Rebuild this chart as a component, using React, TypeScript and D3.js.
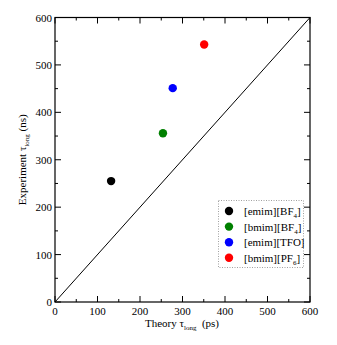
import React, { useEffect, useRef } from 'react';
import * as d3 from 'd3';

// ionic liquids: theory vs experiment long relaxation time
const liquids = ['emim|BF|4', 'bmim|BF|4', 'emim|TFO|', 'bmim|PF|6'];
const theory = [132, 254, 277, 351];
const experiment = [255, 356, 451, 543];
const colors = ['#000000', '#008000', '#0000ff', '#ff0000'];
const majorTicks = [0, 100, 200, 300, 400, 500, 600];
const minorTicks = [50, 150, 250, 350, 450, 550];

export default function App() {
  const svgRef = useRef<SVGSVGElement>(null);

  useEffect(() => {
    const svg = d3.select(svgRef.current);
    svg.selectAll('*').remove();

    const left = 55, right = 310, top = 17.5, bottom = 302;
    const x = d3.scaleLinear().domain([0, 600]).range([left, right]);
    const y = d3.scaleLinear().domain([0, 600]).range([bottom, top]);
    const font = "'Liberation Serif', 'DejaVu Serif', serif";

    // diagonal y = x
    svg.append('line')
      .attr('x1', x(0)).attr('y1', y(0))
      .attr('x2', x(600)).attr('y2', y(600))
      .attr('stroke', '#000').attr('stroke-width', 1);

    // inward ticks on all four sides
    const tick = (v: number, len: number) => {
      svg.append('line').attr('x1', x(v)).attr('x2', x(v)).attr('y1', bottom).attr('y2', bottom - len).attr('stroke', '#000');
      svg.append('line').attr('x1', x(v)).attr('x2', x(v)).attr('y1', top).attr('y2', top + len).attr('stroke', '#000');
      svg.append('line').attr('y1', y(v)).attr('y2', y(v)).attr('x1', left).attr('x2', left + len).attr('stroke', '#000');
      svg.append('line').attr('y1', y(v)).attr('y2', y(v)).attr('x1', right).attr('x2', right - len).attr('stroke', '#000');
    };
    majorTicks.forEach(v => tick(v, 6));
    minorTicks.forEach(v => tick(v, 3));

    svg.append('rect')
      .attr('x', left).attr('y', top)
      .attr('width', right - left).attr('height', bottom - top)
      .attr('fill', 'none').attr('stroke', '#000').attr('stroke-width', 1.2);

    const txt = (sel: any) => sel.style('font-family', font).style('font-size', '11px').style('white-space', 'pre');

    // tick labels
    txt(svg.selectAll('.xl').data(majorTicks).enter().append('text')
      .attr('x', d => x(d)).attr('y', bottom + 13)
      .attr('text-anchor', 'middle'))
      .text(d => d);
    txt(svg.selectAll('.yl').data(majorTicks).enter().append('text')
      .attr('x', left - 3).attr('y', d => y(d) + 4)
      .attr('text-anchor', 'end'))
      .text(d => d);

    // axis titles
    const xt = txt(svg.append('text')
      .attr('x', 182).attr('y', 327)
      .attr('text-anchor', 'middle'));
    xt.append('tspan').text('Theory \u03c4');
    xt.append('tspan').style('font-size', '7px').attr('dy', 3).text('long');
    xt.append('tspan').attr('dy', -3).text('  (ps)');

    const yt = txt(svg.append('text')
      .attr('transform', `translate(26,${(top + bottom) / 2}) rotate(-90)`)
      .attr('text-anchor', 'middle'));
    yt.append('tspan').text('Experiment \u03c4');
    yt.append('tspan').style('font-size', '7px').attr('dy', 3).text('long');
    yt.append('tspan').attr('dy', -3).text(' (ns)');

    // points
    svg.selectAll('.pt').data(liquids).enter().append('circle')
      .attr('cx', (d, i) => x(theory[i])).attr('cy', (d, i) => y(experiment[i]))
      .attr('r', 4.2).attr('fill', (d, i) => colors[i]);

    // legend
    svg.append('rect')
      .attr('x', 218.5).attr('y', 200.5).attr('width', 85).attr('height', 67)
      .attr('fill', '#fff').attr('stroke', '#888').attr('stroke-width', 0.8)
      .attr('stroke-dasharray', '1,1.5');
    liquids.forEach((name, i) => {
      const ly = 211 + i * 15.6;
      const [cation, anion, sub] = name.split('|');
      svg.append('circle').attr('cx', 229).attr('cy', ly).attr('r', 4.2).attr('fill', colors[i]);
      const t = txt(svg.append('text').attr('x', 244).attr('y', ly + 4));
      t.append('tspan').text(`[${cation}][${anion}`);
      if (sub) {
        t.append('tspan').style('font-size', '7px').attr('dy', 3).text(sub);
        t.append('tspan').attr('dy', -3).text(']');
      } else {
        t.append('tspan').text(']');
      }
    });
  }, []);

  return (
    <svg ref={svgRef} width={337} height={345}
      style={{ position: 'absolute', left: 0, top: 0, background: '#fff' }} />
  );
}
